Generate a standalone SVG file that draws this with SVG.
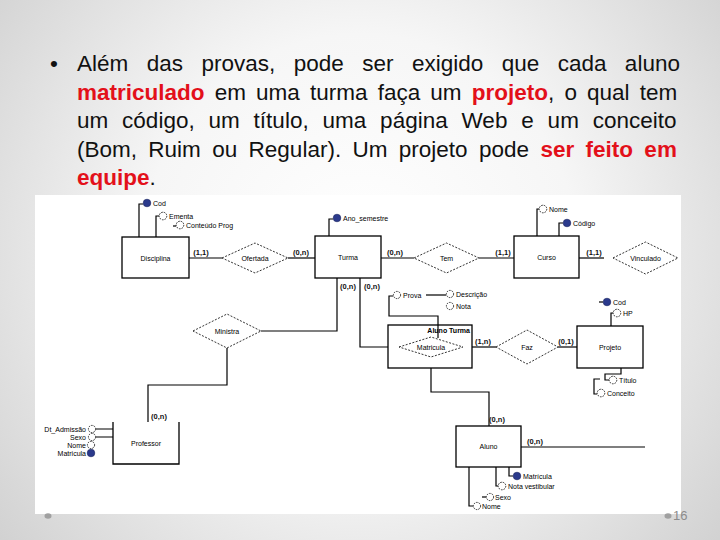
<svg xmlns="http://www.w3.org/2000/svg" width="720" height="540" viewBox="0 0 720 540">
<defs>
<radialGradient id="bg" cx="360" cy="250" r="480" gradientUnits="userSpaceOnUse">
<stop offset="0" stop-color="#ffffff"/>
<stop offset="0.45" stop-color="#f6f6f6"/>
<stop offset="1" stop-color="#cfcfcf"/>
</radialGradient>
<style>
.ttl{font-family:"Liberation Sans",Arial,sans-serif;font-size:22.5px;fill:#111}
.red{fill:#e3101a;font-weight:bold}
.ent{fill:#fff;stroke:#000;stroke-width:1.3}
.rel{fill:#fff;stroke:#000;stroke-width:0.8;stroke-dasharray:2 1.5}
.ln{fill:none;stroke:#000;stroke-width:1.2}
.att{fill:#fff;stroke:#000;stroke-width:0.8;stroke-dasharray:1.6 1}
.key{fill:#2b3a8c;stroke:#1a2360;stroke-width:0.6}
.t{font-family:"Liberation Sans",Arial,sans-serif;font-size:7px;fill:#000}
.m{text-anchor:middle}
.e{text-anchor:end}
.card{font-family:"Liberation Sans",Arial,sans-serif;font-size:7.5px;font-weight:bold;fill:#111;text-anchor:middle}
</style>
</defs>
<rect width="720" height="540" fill="url(#bg)"/>
<text class="ttl" x="50" y="71">•</text>
<text class="ttl" x="77" y="71" word-spacing="12.2">Além das provas, pode ser exigido que cada aluno</text>
<text class="ttl" x="77" y="99.5" word-spacing="3.9"><tspan class="red">matriculado</tspan> em uma turma faça um <tspan class="red">projeto</tspan>, o qual tem</text>
<text class="ttl" x="77" y="128" word-spacing="7.6">um código, um título, uma página Web e um conceito</text>
<text class="ttl" x="77" y="156.5" word-spacing="5.1">(Bom, Ruim ou Regular). Um projeto pode <tspan class="red">ser feito em</tspan></text>
<text class="ttl" x="77" y="185"><tspan class="red">equipe</tspan>.</text>

<rect x="35" y="195" width="646" height="319" fill="#fff"/>

<g id="connectors">
<path class="ln" d="M189,258 H222"/>
<text class="card" x="201" y="255">(1,1)</text>
<path class="ln" d="M288,258 H315"/>
<text class="card" x="301" y="255">(0,n)</text>
<path class="ln" d="M381,258 H414"/>
<text class="card" x="395" y="255">(0,n)</text>
<path class="ln" d="M479,258 H514"/>
<text class="card" x="503" y="255">(1,1)</text>
<path class="ln" d="M579,258 H604"/>
<text class="card" x="594" y="255">(1,1)</text>
<path class="ln" d="M337,278 V331 H261"/>
<text class="card" x="348" y="288.5">(0,n)</text>
<path class="ln" d="M227,348 V385 H148 V422"/>
<text class="card" x="159" y="419">(0,n)</text>
<path class="ln" d="M360,278 V347 H399"/>
<text class="card" x="372" y="288.5">(0,n)</text>
<path class="ln" d="M431,357 V392 H489 V426"/>
<text class="card" x="497" y="422">(0,n)</text>
<path class="ln" d="M472,347 H496"/>
<text class="card" x="483" y="344">(1,n)</text>
<path class="ln" d="M558,347 H577"/>
<text class="card" x="566" y="344">(0,1)</text>
<path class="ln" d="M521,447 H645"/>
<text class="card" x="535" y="444">(0,n)</text>
</g>

<g id="disciplina">
<path class="ln" d="M139,237 V204 H143"/>
<circle class="key" cx="147" cy="203" r="3.8"/>
<text class="t" x="153" y="205.5">Cod</text>
<path class="ln" d="M156,237 V216 H159"/>
<circle class="att" cx="163" cy="216" r="3.8"/>
<text class="t" x="169" y="218.5">Ementa</text>
<path class="ln" d="M173,226 H176"/>
<circle class="att" cx="180" cy="225" r="3.8"/>
<text class="t" x="186" y="227.5">Conteúdo Prog</text>
<rect class="ent" x="122" y="237" width="67" height="41"/>
<text class="t m" x="155.5" y="260.5">Disciplina</text>
</g>

<g id="ofertada">
<polygon class="rel" points="222,258 255,243 288,258 255,273"/>
<text class="t m" x="255" y="260.5">Ofertada</text>
</g>

<g id="turma">
<path class="ln" d="M329,236 V219 H333"/>
<circle class="key" cx="337" cy="218" r="3.8"/>
<text class="t" x="343" y="220.5">Ano_semestre</text>
<rect class="ent" x="315" y="236" width="66" height="42"/>
<text class="t m" x="348" y="260">Turma</text>
</g>

<g id="tem">
<polygon class="rel" points="414,258 446.5,243 479,258 446.5,273"/>
<text class="t m" x="446.5" y="260.5">Tem</text>
</g>

<g id="curso">
<path class="ln" d="M537,236 V209 H539"/>
<circle class="att" cx="543" cy="209" r="3.8"/>
<text class="t" x="549" y="211.5">Nome</text>
<path class="ln" d="M559,236 V223 H563"/>
<circle class="key" cx="567" cy="223" r="3.8"/>
<text class="t" x="573" y="225.5">Código</text>
<rect class="ent" x="514" y="236" width="65" height="42"/>
<text class="t m" x="546.5" y="260">Curso</text>
</g>

<g id="vinculado">
<polygon class="rel" points="613,258 645.5,242 678,258 645.5,274"/>
<text class="t m" x="645.5" y="260.5">Vinculado</text>
</g>

<g id="ministra">
<polygon class="rel" points="193,331 227,314 261,331 227,348"/>
<text class="t m" x="227" y="333.5">Ministra</text>
</g>

<g id="aluno_turma">
<rect class="ent" x="388" y="325" width="84" height="43"/>
<text class="t e" x="470" y="333" font-weight="bold">Aluno Turma</text>
<path class="ln" d="M393,296 H389 V316 H438 V338"/>
<circle class="att" cx="397" cy="295" r="3.6"/>
<text class="t" x="403" y="297.5">Prova</text>
<path class="ln" d="M426,295 H446"/>
<circle class="att" cx="450" cy="294" r="3.6"/>
<text class="t" x="456" y="296.5">Descrição</text>
<circle class="att" cx="450" cy="306" r="3.6"/>
<text class="t" x="456" y="308.5">Nota</text>
</g>

<g id="matricula">
<polygon class="rel" points="399,347 431,337 463,347 431,357"/>
<text class="t m" x="431" y="349.5">Matricula</text>
</g>

<g id="faz">
<polygon class="rel" points="496,347 527,330 558,347 527,364"/>
<text class="t m" x="527" y="349.5">Faz</text>
</g>

<g id="projeto">
<path class="ln" d="M599,302 H603"/>
<circle class="key" cx="607" cy="302" r="3.8"/>
<text class="t" x="613" y="304.5">Cod</text>
<path class="ln" d="M611,326 V313 H613"/>
<circle class="att" cx="617" cy="313" r="3.8"/>
<text class="t" x="623" y="315.5">HP</text>
<rect class="ent" x="577" y="326" width="66" height="42"/>
<text class="t m" x="610" y="350">Projeto</text>
<path class="ln" d="M621,368 V374 H605 V380 H609"/>
<circle class="att" cx="613" cy="380" r="3.8"/>
<text class="t" x="619" y="382.5">Título</text>
<path class="ln" d="M600,379 H594 V394 H597"/>
<circle class="att" cx="601" cy="393" r="3.8"/>
<text class="t" x="607" y="395.5">Conceito</text>
</g>

<g id="professor">
<path class="ln" d="M96,429 H113 M96,437 H113"/>
<circle class="att" cx="92" cy="429" r="3.6"/>
<circle class="att" cx="92" cy="437" r="3.6"/>
<circle class="att" cx="91" cy="445" r="3.6"/>
<circle class="key" cx="91" cy="453" r="3.8"/>
<text class="t e" x="86" y="431.5">Dt_Admissão</text>
<text class="t e" x="86" y="439.5">Sexo</text>
<text class="t e" x="86" y="447.5">Nome</text>
<text class="t e" x="86" y="455.5">Matricula</text>
<path class="ent" fill="none" d="M113,422 V464 H179 V422"/>
<text class="t m" x="146" y="446">Professor</text>
</g>

<g id="aluno">
<rect class="ent" x="456" y="426" width="65" height="41"/>
<text class="t m" x="488.5" y="449">Aluno</text>
<path class="ln" d="M509,467 V476 H513"/>
<circle class="key" cx="517" cy="476" r="3.8"/>
<text class="t" x="523" y="478.5">Matrícula</text>
<path class="ln" d="M496,467 V486 H498"/>
<circle class="att" cx="502" cy="486" r="3.8"/>
<text class="t" x="508" y="488.5">Nota vestibular</text>
<path class="ln" d="M482,497 H486"/>
<circle class="att" cx="490" cy="497" r="3.6"/>
<text class="t" x="495" y="499.5">Sexo</text>
<path class="ln" d="M469,467 V506 H473"/>
<circle class="att" cx="477" cy="506" r="3.6"/>
<text class="t" x="482" y="508.5">Nome</text>
</g>

<ellipse cx="48" cy="516" rx="3.5" ry="2.8" fill="#a0a0a0"/>
<ellipse cx="668" cy="516" rx="3.5" ry="2.8" fill="#a0a0a0"/>
<text x="673" y="520" font-family="'Liberation Sans',Arial,sans-serif" font-size="13" fill="#8c8c8c">16</text>
</svg>
